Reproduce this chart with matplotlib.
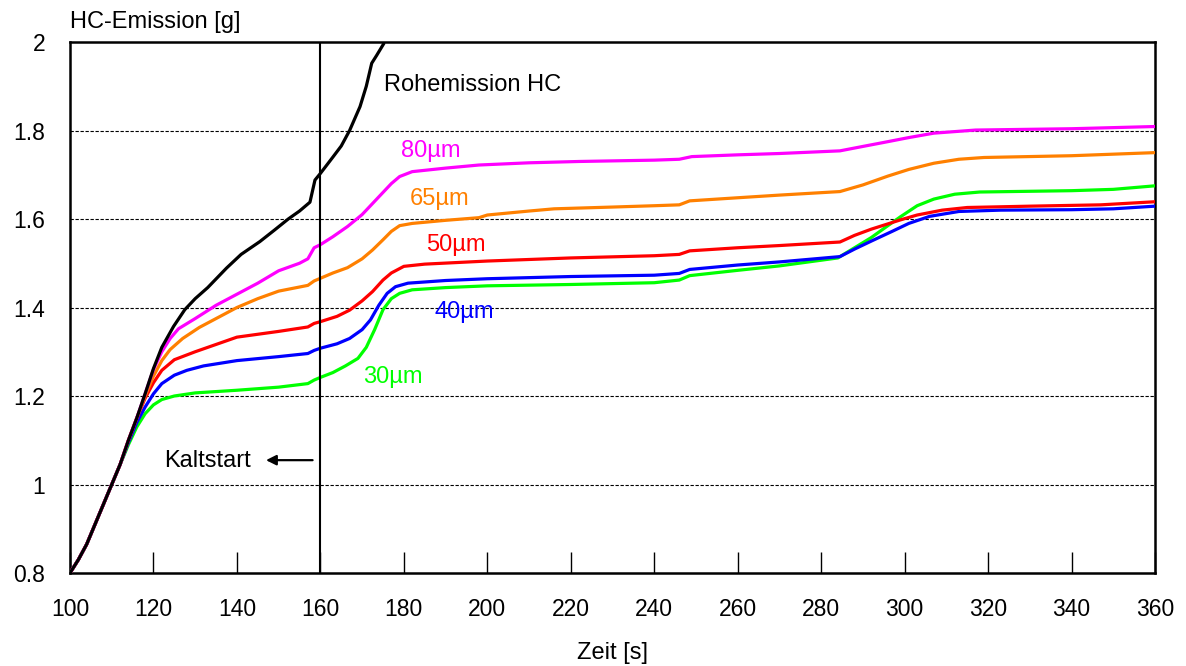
import numpy as np
import matplotlib
matplotlib.use("Agg")
import matplotlib.pyplot as plt

plt.rcParams['font.family'] = ['Liberation Sans', 'DejaVu Sans']

# ------------------------------------------------------
# Data
# ------------------------------------------------------

t_common = [100, 102, 104, 106, 108, 110, 112]
v_common = [0.80, 0.83, 0.865, 0.91, 0.955, 1.0, 1.045]

t_roh = [114, 116, 118, 120, 122, 124.8, 127.5, 130, 133, 137.5, 141, 145.5, 149,
         152.3, 155, 157.5, 158.7, 160, 163, 165, 167, 169.5, 171, 172.3, 173.5, 175.1]
v_roh = [1.1, 1.15, 1.205, 1.262, 1.31, 1.357, 1.395, 1.42, 1.445, 1.489, 1.52, 1.549, 1.575,
         1.60, 1.618, 1.638, 1.688, 1.703, 1.74, 1.765, 1.80, 1.854, 1.9, 1.952, 1.97, 1.995]

t_80 = [114, 116, 118, 120, 122, 124, 126, 130, 135, 140, 145, 150, 155, 157, 158.5, 160,
        163, 166.5, 170, 172.5, 174.5, 177, 179, 182, 190, 198, 210, 222, 240, 246, 249,
        260, 270, 284.5, 290, 295, 301, 307, 317, 340, 360]
v_80 = [1.1, 1.15, 1.205, 1.26, 1.3, 1.33, 1.352, 1.375, 1.405, 1.43, 1.455, 1.483, 1.5, 1.51,
        1.535, 1.542, 1.56, 1.583, 1.61, 1.635, 1.655, 1.68, 1.696, 1.707, 1.715, 1.722, 1.727,
        1.73, 1.733, 1.735, 1.741, 1.745, 1.748, 1.754, 1.764, 1.773, 1.784, 1.794, 1.801,
        1.804, 1.809]

t_65 = [114, 116, 118, 120, 122, 124, 127, 131, 136, 140, 145, 150, 157, 158.5, 160, 163,
        166.5, 170, 172.5, 175, 177, 179, 182, 190, 198, 200, 210, 216, 230, 240, 246, 248.5,
        260, 270, 284.5, 290, 296, 301, 307, 313, 319, 340, 360]
v_65 = [1.1, 1.15, 1.2, 1.245, 1.28, 1.305, 1.33, 1.355, 1.38, 1.40, 1.42, 1.437, 1.45, 1.46,
        1.466, 1.478, 1.49, 1.51, 1.53, 1.553, 1.572, 1.585, 1.59, 1.597, 1.603, 1.609, 1.618,
        1.623, 1.627, 1.63, 1.632, 1.641, 1.648, 1.654, 1.662, 1.677, 1.697, 1.712, 1.726,
        1.735, 1.739, 1.743, 1.75]

t_50 = [114, 116, 118, 120, 122, 125, 130, 140, 150, 157, 158.5, 160, 164, 167, 170, 172.5,
        175, 177, 180, 185, 200, 220, 240, 246, 248.5, 260, 270, 284.5, 288, 292, 295, 299,
        303, 309, 315, 330, 347, 360]
v_50 = [1.1, 1.15, 1.195, 1.23, 1.258, 1.282, 1.30, 1.333, 1.346, 1.356, 1.364, 1.368, 1.38,
        1.394, 1.415, 1.436, 1.462, 1.478, 1.493, 1.498, 1.505, 1.512, 1.517, 1.52, 1.528,
        1.535, 1.54, 1.548, 1.563, 1.577, 1.586, 1.598, 1.609, 1.62, 1.626, 1.629, 1.632, 1.639]

t_40 = [114, 116, 118, 120, 122, 125, 128, 132, 140, 150, 157, 158.5, 160, 164, 167, 170,
        172, 174, 176, 178, 181, 190, 200, 220, 240, 246, 248.5, 260, 270, 284.5, 288, 292,
        297, 301, 306, 313, 323, 340, 350, 360]
v_40 = [1.095, 1.14, 1.175, 1.205, 1.228, 1.247, 1.258, 1.268, 1.28, 1.289, 1.296, 1.303,
        1.308, 1.318, 1.33, 1.35, 1.372, 1.405, 1.432, 1.447, 1.455, 1.461, 1.465, 1.47, 1.473,
        1.477, 1.486, 1.496, 1.503, 1.515, 1.532, 1.55, 1.572, 1.59, 1.606, 1.617, 1.62, 1.621,
        1.623, 1.629]

t_30 = [114, 116, 118, 120, 122, 125, 130, 140, 150, 157, 158.5, 160, 163, 166, 169, 171,
        173, 175, 177, 179, 182, 190, 200, 220, 240, 246, 248.5, 260, 270, 284, 288, 292, 296,
        299, 303, 307, 312, 318, 340, 350, 360]
v_30 = [1.09, 1.13, 1.16, 1.18, 1.192, 1.20, 1.207, 1.213, 1.22, 1.228, 1.236, 1.242, 1.253,
        1.268, 1.285, 1.31, 1.35, 1.395, 1.42, 1.432, 1.44, 1.445, 1.449, 1.452, 1.456, 1.462,
        1.472, 1.484, 1.494, 1.512, 1.535, 1.558, 1.585, 1.605, 1.63, 1.645, 1.656, 1.661,
        1.664, 1.667, 1.675]

series = [
    ("Rohemission HC", t_roh, v_roh, "black"),
    ("80µm", t_80, v_80, "#ff00ff"),
    ("65µm", t_65, v_65, "#ff8000"),
    ("50µm", t_50, v_50, "#ff0000"),
    ("40µm", t_40, v_40, "#0000ff"),
    ("30µm", t_30, v_30, "#00ff00"),
]

# label name, x, y
labels = [
    ("Rohemission HC", 175.3, 1.902, "black"),
    ("80µm", 179.3, 1.753, "#ff00ff"),
    ("65µm", 181.3, 1.645, "#ff8000"),
    ("50µm", 185.3, 1.541, "#ff0000"),
    ("40µm", 187.3, 1.389, "#0000ff"),
    ("30µm", 170.3, 1.242, "#00ff00"),
]

kaltstart_t = 160

# ------------------------------------------------------
# Plot
# ------------------------------------------------------

fig = plt.figure(figsize=(11.86, 6.66), dpi=100)
ax = fig.add_axes([70 / 1186, 1 - 573 / 666, (1155 - 70) / 1186, (573 - 42) / 666])

for y in [1.0, 1.2, 1.4, 1.6, 1.8]:
    ax.axhline(y, color="black", lw=0.8, ls=(0, (3, 1.5)), zorder=1)

# draw coloured lines from bottom to top, black last
for name, t, v, col in reversed(series):
    tt = np.concatenate([t_common, t])
    vv = np.concatenate([v_common, v])
    ax.plot(tt, vv, color=col, lw=2.3, zorder=3 if col != "black" else 4)

ax.axvline(kaltstart_t, color="black", lw=1.5, zorder=5)

for name, x, y, col in labels:
    ax.text(x, y, name, color=col, fontsize=17, ha="left", va="center")

ax.text(122.5, 1.053, "Kaltstart", fontsize=17, ha="left", va="center")
ax.annotate("", xy=(146.3, 1.055), xytext=(158.8, 1.055),
            arrowprops=dict(arrowstyle="-|>", color="black", lw=1.6,
                            mutation_scale=15))

ax.set_xlim(100, 360)
ax.set_ylim(0.8, 2.0)
ax.set_xticks(np.arange(100, 361, 20))
ax.set_yticks([0.8, 1.0, 1.2, 1.4, 1.6, 1.8, 2.0])
ax.set_yticklabels(["0.8", "1", "1.2", "1.4", "1.6", "1.8", "2"])
ax.tick_params(axis="x", direction="in", length=15, width=1, labelsize=16.5, pad=18)
ax.tick_params(axis="y", length=0, labelsize=16.5, pad=18)
for sp in ax.spines.values():
    sp.set_linewidth(1.8)

fig.text(70 / 1186, 1 - 22 / 666, "HC-Emission [g]", fontsize=17, ha="left", va="center")
fig.text(612 / 1186, 1 - 653 / 666, "Zeit [s]", fontsize=17, ha="center", va="center")

fig.savefig("out.png", dpi=100)
